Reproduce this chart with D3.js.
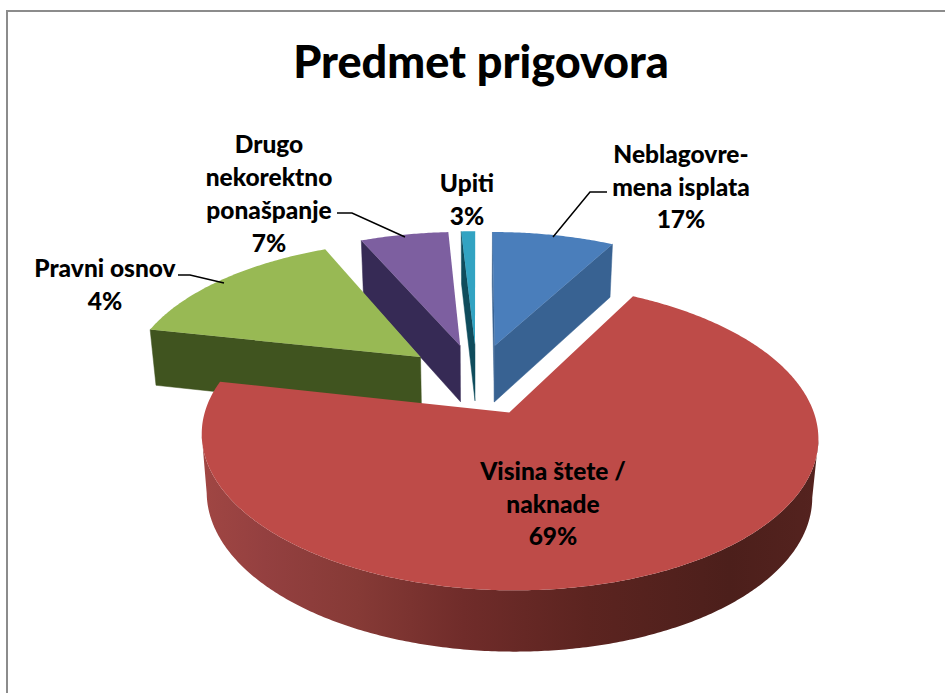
<!DOCTYPE html>
<html><head><meta charset="utf-8">
<script src="https://cdn.jsdelivr.net/npm/d3@7/dist/d3.min.js"></script>
<style>html,body{margin:0;padding:0;background:#fff;overflow:hidden}svg{display:block}text{font-family:Lato,"Open Sans",sans-serif;font-weight:900;fill:#000}</style>
</head><body><div id="chart"></div>
<script>
// Data
const categories = ["Neblagovremena isplata", "Visina štete / naknade", "Pravni osnov", "Drugo nekorektno ponašanje", "Upiti"];
const printedPercent = [17, 69, 4, 7, 3];            // percentages as printed on the labels
const drawnShare = [7.9, 70.5, 15, 5.7, 0.9];        // slice sizes as drawn in the picture
const labelLines = [["Neblagovre-", "mena isplata"], ["Visina štete /", "naknade"], ["Pravni osnov"], ["Drugo", "nekorektno", "ponašpanje"], ["Upiti"]];
const chartTitle = "Predmet prigovora";

// Styles and layout
const W = 945, H = 693;
const topColors = ["#4a7ebb", "#be4b48", "#98b954", "#7d5fa0", "#32a3c2"];
const wallColors = ["#386292", "#6b2a28", "#40541f", "#362a55", "#0f4c5c"];
const drawOrder = [4, 3, 0, 2, 1];
const labelLayout = [
  {x: 681, y: 163, dy: 32.5, lead: [[607, 192], [590, 192], [553, 237]]},
  {x: 553, y: 480, dy: 32.5, lead: null},
  {x: 105, y: 277, dy: 33, lead: [[178, 275], [190, 275], [224, 283]]},
  {x: 269, y: 153, dy: 33, lead: [[337, 213], [352, 213], [405, 237]]},
  {x: 467, y: 192, dy: 32.5, lead: null}
];

// Perspective model of the disc, driven by scales
const persp = 0.15, explode = 0.254;
const sx = d3.scaleLinear().domain([-1, 1]).range([477 - 294, 477 + 294]);
const sz = d3.scaleLinear().domain([-1, 1]).range([379 + 140, 379 - 140]);
const cx0 = sx(0);
const wallDepth = z => 57 - 3.5 * z;
function proj(X, Z, low) {
  const s = 1 / (1 + persp * Z);
  let x = sx(X * s), y = sz(Z * s);
  if (low) { x = cx0 + (x - cx0) * 0.982; y += wallDepth(Z); }
  return [x, y];
}
const line = d3.line();
const closed = pts => line(pts) + "Z";

const svg = d3.select("#chart").append("svg").attr("width", W).attr("height", H);
const defs = svg.append("defs");
const grad = defs.append("linearGradient").attr("id", "redWall").attr("gradientUnits", "userSpaceOnUse")
  .attr("x1", 203).attr("x2", 822).attr("y1", 0).attr("y2", 0);
[[0, "#a04643"], [0.1, "#944040"], [0.25, "#863a36"], [0.42, "#702c2a"], [0.62, "#5c2420"], [0.85, "#4c1f1b"], [1, "#55231f"]]
  .forEach(([o, c]) => grad.append("stop").attr("offset", o).attr("stop-color", c));

// Frame: only the top and left edges are drawn
svg.append("path").attr("d", `M7,${H}V11H${W}`).attr("fill", "none").attr("stroke", "#8c8c8c").attr("stroke-width", 2);

svg.append("text").attr("x", 481).attr("y", 78).attr("text-anchor", "middle").attr("font-size", 45).text(chartTitle);

const arcs = d3.pie().sort(null).value(d => d).startAngle(0).endAngle(2 * Math.PI)(drawnShare);

function sliceGeometry(a) {
  const mid = (a.startAngle + a.endAngle) / 2;
  const X0 = explode * Math.sin(mid), Z0 = explode * Math.cos(mid);
  const n = Math.max(4, Math.ceil((a.endAngle - a.startAngle) / 0.01));
  const angles = d3.range(n + 1).map(i => a.startAngle + (a.endAngle - a.startAngle) * i / n);
  const rim = angles.map(t => [X0 + Math.sin(t), Z0 + Math.cos(t)]);
  return {apex: [X0, Z0], rim};
}

const g = svg.append("g");
drawOrder.forEach(i => {
  const {apex, rim} = sliceGeometry(arcs[i]);
  const at = proj(apex[0], apex[1]), ab = proj(apex[0], apex[1], true);
  const top = rim.map(p => proj(p[0], p[1]));
  const bot = rim.map(p => proj(p[0], p[1], true));
  const first = top[0], last = top[top.length - 1];
  const sl = g.append("g").attr("class", "slice").attr("data-name", categories[i]);
  // radial walls, kept only when they face the viewer
  if ((first[0] - at[0]) < -2) sl.append("path").attr("d", closed([at, first, bot[0], ab])).attr("fill", wallColors[i]).attr("stroke", wallColors[i]).attr("stroke-width", .5);
  if ((last[0] - at[0]) > 2) sl.append("path").attr("d", closed([at, last, bot[bot.length - 1], ab])).attr("fill", wallColors[i]).attr("stroke", wallColors[i]).attr("stroke-width", .5);
  // outer wall: the part of the rim that moves leftwards as the angle grows faces the viewer
  const vis = d3.range(top.length).filter(k => k < top.length - 1 && top[k + 1][0] < top[k][0] && top[k][1] > sz(0) - 60);
  if (vis.length > 1) {
    const tp = vis.map(k => top[k]), bp = vis.map(k => bot[k]).reverse();
    sl.append("path").attr("d", closed(tp.concat(bp))).attr("fill", "url(#redWall)");
  }
  sl.append("path").attr("d", closed([at].concat(top))).attr("fill", topColors[i]);
});

// Labels
categories.forEach((c, i) => {
  const L = labelLayout[i];
  const lines = labelLines[i].concat([printedPercent[i] + "%"]);
  svg.append("text").attr("text-anchor", "middle").attr("font-size", 24.5)
    .selectAll("tspan").data(lines).join("tspan")
    .attr("x", L.x).attr("y", (d, k) => L.y + k * L.dy).text(d => d);
  if (L.lead) svg.append("path").attr("d", line(L.lead)).attr("fill", "none").attr("stroke", "#000").attr("stroke-width", 1.5);
});
</script></body></html>
